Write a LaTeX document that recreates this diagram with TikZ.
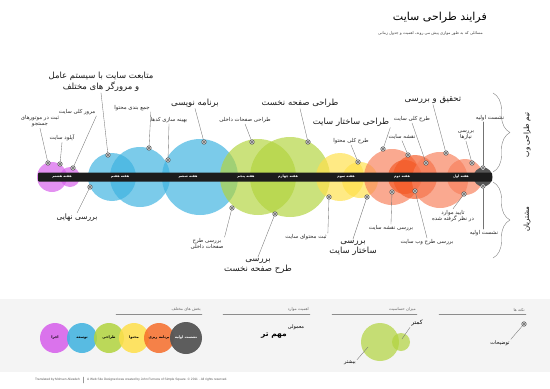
\documentclass[tikz,border=0pt]{standalone}
\usepackage{fontspec}
\usetikzlibrary{decorations.pathreplacing}
\newfontfamily\persian[Script=Arabic]{DejaVu Sans}
\newfontfamily\latin{Liberation Sans}
\TeXXeTstate=1
\newcommand{\fa}[1]{\beginR#1\endR}
\definecolor{pinkc}{HTML}{D65DEB}
\definecolor{bluec}{HTML}{3DB2E0}
\definecolor{greenc}{HTML}{B2D43E}
\definecolor{yellowc}{HTML}{FFE04A}
\definecolor{salmonc}{HTML}{F7805C}
\definecolor{orangec}{HTML}{F45A26}
\definecolor{barc}{HTML}{1C1C1C}
\definecolor{greyc}{HTML}{555555}
\definecolor{bandc}{HTML}{F4F4F4}
\begin{document}
\begin{tikzpicture}[x=1pt,y=-1pt,line cap=round,line join=round,
  bubble/.style={fill opacity=0.68},
  pt/.style={circle,draw=black!75,fill=black!15,line width=0.45pt,inner sep=0pt,minimum size=4.6pt,
    path picture={\fill[black!85] (path picture bounding box.center) circle[radius=0.9pt];}},
  lead/.style={draw=black!55,line width=0.35pt},
  lbl/.style={font={\persian\fontsize{5.4}{6.6}\selectfont},inner sep=1pt,align=center,text=black!85},
  big/.style={font={\persian\fontsize{8.5}{10.5}\selectfont},inner sep=1pt,align=center,text=black!90},
  week/.style={font={\persian\bfseries\fontsize{3.4}{4}\selectfont},text=white,inner sep=0pt},
  hdr/.style={font={\persian\fontsize{4}{5}\selectfont},text=black!60,anchor=south east,inner sep=1pt},
  key/.style={font={\persian\bfseries\fontsize{3.6}{4.5}\selectfont},inner sep=0pt},
  foot/.style={font={\latin\fontsize{3.2}{4}\selectfont},text=black!65,inner sep=0pt}]
\useasboundingbox (0,0) rectangle (550,389);
% title
\node[font={\persian\fontsize{11}{13}\selectfont},anchor=east,inner sep=0pt] (ttl) at (487,18) {\fa{فرایند طراحی سایت}};
\node[font={\persian\fontsize{4}{5}\selectfont},text=black!75,anchor=east,inner sep=0pt] (sub) at (483,33) {\fa{مسائلی که به طور موازی پیش می روند، اهمیت و جدول زمانی}};
% bubbles
\fill[pinkc,bubble] (52,177) circle[radius=15];
\fill[pinkc,bubble] (70,177) circle[radius=10];
\fill[bluec,bubble] (112,177) circle[radius=24];
\fill[bluec,bubble] (140,177) circle[radius=30];
\fill[bluec,bubble] (200,177) circle[radius=38];
\fill[greenc,bubble] (258,177) circle[radius=38];
\fill[greenc,bubble] (290,177) circle[radius=40];
\fill[yellowc,bubble] (340,177) circle[radius=24];
\fill[yellowc,bubble] (360,180) circle[radius=18];
\fill[salmonc,bubble] (392,177) circle[radius=28];
\fill[orangec,bubble] (405,177) circle[radius=17];
\fill[orangec,bubble] (415,177) circle[radius=22];
\fill[salmonc,bubble] (440,180) circle[radius=28];
\fill[salmonc,bubble] (465,177) circle[radius=18];
\fill[greyc] (483,177) circle[radius=9.5];
% timeline
\fill[barc,rounded corners=1pt] (38,172.5) rectangle (492,181.5);
\node[week] (w8) at (62,177) {\fa{هفته هشتم}};
\node[week] (w7) at (120,177) {\fa{هفته هفتم}};
\node[week] (w6) at (188,177) {\fa{هفته ششم}};
\node[week] (w5) at (246,177) {\fa{هفته پنجم}};
\node[week] (w4) at (288,177) {\fa{هفته چهارم}};
\node[week] (w3) at (346,177) {\fa{هفته سوم}};
\node[week] (w2) at (402,177) {\fa{هفته دوم}};
\node[week] (w1) at (461,177) {\fa{هفته اول}};
% points above
\node[pt] (p1) at (48,163) {};
\node[pt] (p2) at (60,164) {};
\node[pt] (p3) at (73,168) {};
\node[pt] (p4) at (108,155) {};
\node[pt] (p5) at (149,148) {};
\node[pt] (p6) at (168,160) {};
\node[pt] (p7) at (204,142) {};
\node[pt] (p8) at (252,142) {};
\node[pt] (p9) at (308,142) {};
\node[pt] (p10) at (383,149) {};
\node[pt] (p11) at (358,162) {};
\node[pt] (p12) at (408,155) {};
\node[pt] (p13) at (426,163) {};
\node[pt] (p14) at (446,153) {};
\node[pt] (p15) at (472,163) {};
\node[pt] (p16) at (483,168) {};
% points below
\node[pt] (p17) at (90,187) {};
\node[pt] (p18) at (232,208) {};
\node[pt] (p19) at (275,214) {};
\node[pt] (p20) at (329,197) {};
\node[pt] (p21) at (367,197) {};
\node[pt] (p22) at (392,192) {};
\node[pt] (p23) at (415,191) {};
\node[pt] (p24) at (464,194) {};
\node[pt] (p25) at (483,186) {};
% labels above
\node[lbl] (l1) at (40,121) {\fa{ثبت در موتورهای}\\\fa{جستجو}};
\node[lbl] (l2) at (62,138) {\fa{آپلود سایت}};
\node[lbl] (l3) at (77,112) {\fa{مرور کلی سایت}};
\node[big] (l4) at (101,82) {\fa{متابعت سایت با سیستم عامل}\\\fa{و مرورگر های مختلف}};
\node[lbl] (l5) at (132,108) {\fa{جمع بندی محتوا}};
\node[lbl] (l6) at (169,120) {\fa{بهینه سازی کدها}};
\node[big] (l7) at (195,103) {\fa{برنامه نویسی}};
\node[lbl] (l8) at (245,120) {\fa{طراحی صفحات داخلی}};
\node[big] (l9) at (300,103) {\fa{طراحی صفحه نخست}};
\node[big] (l10) at (351,122) {\fa{طراحی ساختار سایت}};
\node[lbl] (l11) at (351,141) {\fa{طرح کلی محتوا}};
\node[lbl] (l12) at (402,137) {\fa{نقشه سایت}};
\node[lbl] (l13) at (412,119) {\fa{طرح کلی سایت}};
\node[big] (l14) at (433,100) {\fa{تحقیق و بررسی}};
\node[lbl] (l15) at (466,135) {\fa{بررسی}\\\fa{نیازها}};
\node[lbl] (l16) at (490,118) {\fa{نشست اولیه}};
% labels below
\node[big,font={\persian\fontsize{7.5}{9}\selectfont}] (l17) at (77,218) {\fa{بررسی نهایی}};
\node[lbl] (l18) at (207,244) {\fa{بررسی طرح}\\\fa{صفحات داخلی}};
\node[big] (l19) at (258,266) {\fa{بررسی}\\\fa{طرح صفحه نخست}};
\node[lbl] (l20) at (306,237) {\fa{ثبت محتوای سایت}};
\node[big] (l21) at (353,248) {\fa{بررسی}\\\fa{ساختار سایت}};
\node[lbl] (l22) at (391,228) {\fa{بررسی نقشه سایت}};
\node[lbl] (l23) at (427,242) {\fa{بررسی طرح وب سایت}};
\node[lbl] (l24) at (453,216) {\fa{تایید موارد}\\\fa{در نظر گرفته شده}};
\node[lbl] (l25) at (484,233) {\fa{نشست اولیه}};
% leaders
\draw[lead] (p1) -- (l1.south);
\draw[lead] (p2) -- (l2.south);
\draw[lead] (p3) -- (l3.south east);
\draw[lead] (p4) -- (l4.south);
\draw[lead] (p5) -- (l5.south east);
\draw[lead] (p6) -- (l6.south);
\draw[lead] (p7) -- (l7.south);
\draw[lead] (p8) -- (l8.south);
\draw[lead] (p9) -- (l9.south);
\draw[lead] (p10) -- (l10.south east);
\draw[lead] (p11) -- (l11.south);
\draw[lead] (p12) -- (l12.south);
\draw[lead] (p13) -- (l13.south);
\draw[lead] (p14) -- (l14.south);
\draw[lead] (p15) -- (l15.south);
\draw[lead] (p16) -- (l16.south -| p16);
\draw[lead] (p17) -- (l17.north);
\draw[lead] (p18) -- (l18.north east);
\draw[lead] (p19) -- (l19.north);
\draw[lead] (p20) -- (l20.north east);
\draw[lead] (p21) -- (l21.north);
\draw[lead] (p22) -- (l22.north);
\draw[lead] (p23) -- (l23.north);
\draw[lead] (p24) -- (l24.north);
\draw[lead] (p25) -- (l25.north -| p25);
% braces
\draw[black!50,line width=0.4pt,decorate,decoration={brace,amplitude=17pt}] (493,93) -- (493,172);
\draw[black!50,line width=0.4pt,decorate,decoration={brace,amplitude=17pt}] (493,182) -- (493,258);
\node[font={\persian\fontsize{7}{8}\selectfont},rotate=90] (team) at (527,135) {\fa{تیم طراحی وب}};
\node[font={\persian\fontsize{7}{8}\selectfont},rotate=90] (client) at (527,219) {\fa{مشتریان}};
% legend
\fill[bandc] (0,299) rectangle (550,372);
\draw[black!45,line width=0.4pt] (116,314) -- (202,314);
\draw[black!45,line width=0.4pt] (223,314) -- (310,314);
\draw[black!45,line width=0.4pt] (332,314) -- (417,314);
\draw[black!45,line width=0.4pt] (439,314) -- (526,314);
\node[hdr] (h1) at (202,313) {\fa{بخش های مختلف}};
\node[hdr] (h2) at (310,313) {\fa{اهمیت موارد}};
\node[hdr] (h3) at (417,313) {\fa{میزان حساسیت}};
\node[hdr] (h4) at (526,313) {\fa{نکته ها}};
\fill[pinkc,fill opacity=0.85] (55,338) circle[radius=15];
\fill[bluec,fill opacity=0.85] (82,338) circle[radius=15];
\fill[greenc,fill opacity=0.85] (109,338) circle[radius=15];
\fill[yellowc,fill opacity=0.85] (134,338) circle[radius=15];
\fill[orangec!85!yellowc,fill opacity=0.85] (159,338) circle[radius=15];
\fill[greyc,fill opacity=0.95] (186,338) circle[radius=16];
\node[key] (k1) at (55,338) {\fa{اجرا}};
\node[key] (k2) at (82,338) {\fa{توسعه}};
\node[key] (k3) at (109,338) {\fa{طراحی}};
\node[key] (k4) at (134,338) {\fa{محتوا}};
\node[key] (k5) at (159,338) {\fa{برنامه ریزی}};
\node[key,text=white] (k6) at (186,338) {\fa{نشست اولیه}};
\node[font={\persian\fontsize{5}{6}\selectfont},inner sep=0pt] (norm) at (296,327) {\fa{معمولی}};
\node[font={\persian\bfseries\fontsize{7.5}{9}\selectfont},inner sep=0pt] (imp) at (274,336) {\fa{مهم تر}};
\fill[greenc,fill opacity=0.7] (380,342) circle[radius=19];
\fill[greenc,fill opacity=0.7] (401,342) circle[radius=9];
\node[font={\persian\fontsize{6}{7}\selectfont},inner sep=1pt] (less) at (417,323) {\fa{کمتر}};
\node[font={\persian\fontsize{5}{6}\selectfont},inner sep=1pt] (more) at (350,363) {\fa{بیشتر}};
\coordinate (cl) at (402,339);
\coordinate (cm) at (368,347);
\draw[lead] (cl) -- (less.south west);
\draw[lead] (cm) -- (more.north east);
\node[pt] (pn) at (524,324) {};
\node[font={\persian\fontsize{5}{6}\selectfont},inner sep=1pt] (note) at (500,343) {\fa{توضیحات}};
\draw[lead] (pn) -- (note.north east);
% footer
\node[foot,anchor=east] (tr) at (80,380) {Translated by Mohsen Alizadeh};
\draw[black!40,line width=0.3pt] (83,377) -- (83,383);
\node[foot,anchor=west] (cr) at (87,380) {A Web Site Designed was created by John Furness of Simple Square. \textcopyright\ 2011 . All rights reserved.};
\end{tikzpicture}
\end{document}
